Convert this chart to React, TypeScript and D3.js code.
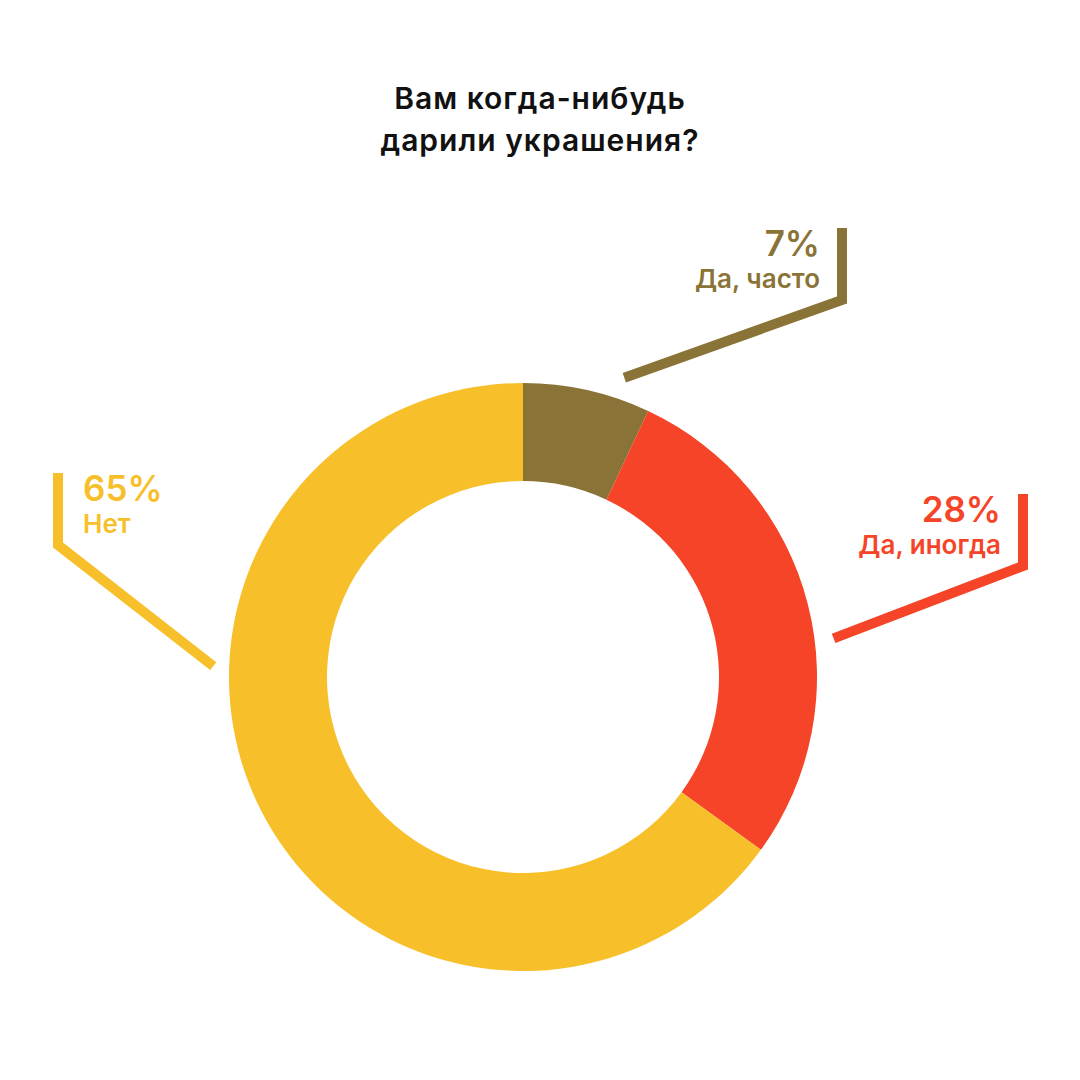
import React from 'react';
import * as d3 from 'd3';

interface Slice {
  label: string;
  value: number;
  color: string;
}

const categories = ['Да, часто', 'Да, иногда', 'Нет'];
const shares = [7, 28, 65];
const colors = ['#8A7336', '#F54427', '#F7BF29'];
const titleLines = ['Вам когда-нибудь', 'дарили украшения?'];

// leader layout: where the line leaves the ring, the elbow and the top of the riser
const leaders = [
  { angle: 18.7, r: 316, cornerX: 842, cornerY: 300, topY: 228, side: 'right' },
  { angle: 82.9, r: 313, cornerX: 1023, cornerY: 566, topY: 494, side: 'right' },
  { angle: 272, r: 310, cornerX: 58, cornerY: 545, topY: 473, side: 'left' },
];

const W = 1080;
const H = 1080;
const cx = 523;
const cy = 677;
const outerR = 294;
const innerR = 196;
const FONT = 'Inter, "Noto Sans", sans-serif';

export default function App() {
  const data: Slice[] = categories.map((c, i) => ({ label: c, value: shares[i], color: colors[i] }));

  const pie = d3.pie<Slice>().sort(null).value(d => d.value);
  const arcs = pie(data);
  const arc = d3.arc<d3.PieArcDatum<Slice>>().innerRadius(innerR).outerRadius(outerR);
  const line = d3.line();

  return (
    <svg width={W} height={H} style={{ position: 'absolute', left: 0, top: 0, background: '#fff' }}>
      <rect width={W} height={H} fill="#fff" />
      <g fontFamily={FONT} fontWeight={600} fill="#111" fontSize={30} letterSpacing={1} textAnchor="middle">
        {titleLines.map((t, i) => (
          <text key={i} x={540} y={109 + i * 42}>{t}</text>
        ))}
      </g>

      <g transform={`translate(${cx},${cy})`}>
        {arcs.map((a, i) => (
          <path key={i} d={arc(a) || ''} fill={a.data.color} />
        ))}
      </g>

      {arcs.map((a, i) => {
        const l = leaders[i];
        const rad = (l.angle * Math.PI) / 180;
        const sx = cx + l.r * Math.sin(rad);
        const sy = cy - l.r * Math.cos(rad);
        const pts: [number, number][] = [[sx, sy], [l.cornerX, l.cornerY], [l.cornerX, l.topY]];
        const right = l.side === 'right';
        const tx = right ? l.cornerX - 22 : l.cornerX + 25;
        return (
          <g key={i}>
            <path d={line(pts) || ''} fill="none" stroke={a.data.color} strokeWidth={10} strokeLinejoin="miter" />
            <g fontFamily={FONT} fontWeight={600} fill={a.data.color} textAnchor={right ? 'end' : 'start'}>
              <text x={tx} y={l.topY + 28} fontSize={35}>{`${a.data.value}%`}</text>
              <text x={tx} y={l.topY + 60} fontSize={26}>{a.data.label}</text>
            </g>
          </g>
        );
      })}
    </svg>
  );
}
